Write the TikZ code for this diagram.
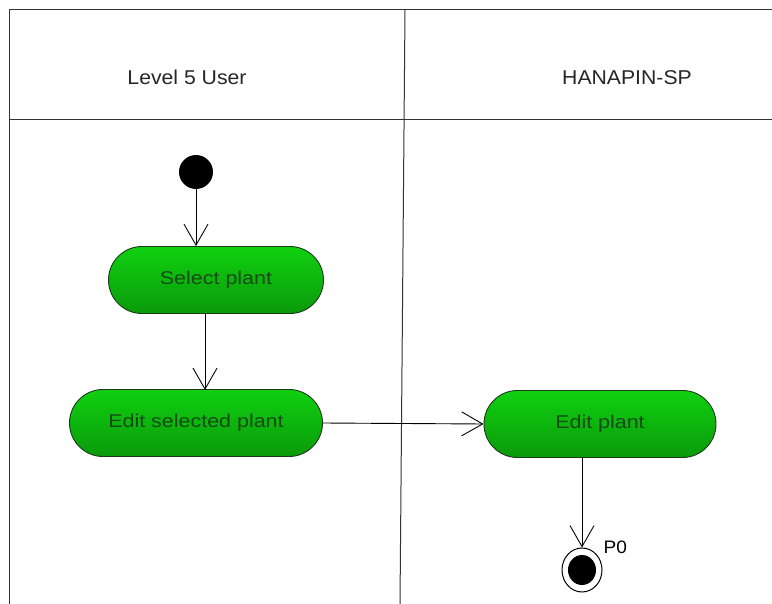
\documentclass[tikz,border=0pt]{standalone}
\usepackage{fontspec}
\setmainfont{Liberation Sans}
\newfontfamily\lanefont[FakeStretch=1.06]{Liberation Sans}
\newfontfamily\actfont[FakeStretch=1.16]{Liberation Sans}
\usetikzlibrary{arrows.meta,shapes.misc,shapes.geometric}
\definecolor{acttext}{HTML}{164A16}
\definecolor{acttop}{HTML}{10D010}
\definecolor{actbot}{HTML}{0A9A0A}
\definecolor{actline}{HTML}{1A3A1A}
\begin{document}
\begin{tikzpicture}[x=1pt,y=-1pt,
  frame/.style={draw=black!80,line width=1pt},
  action/.style={rounded rectangle,draw=actline,line width=0.9pt,
    top color=acttop,bottom color=actbot,minimum height=67pt,
    inner xsep=0pt,text=acttext,font=\actfont\fontsize{18.5}{21}\selectfont},
  flow/.style={draw=black,line width=0.9pt,-{Straight Barb[length=21pt,width=24pt,line width=0.9pt]}},
  lane/.style={font=\lanefont\fontsize{20}{23}\selectfont,text=black!85,anchor=base}]
\useasboundingbox (0,0) rectangle (772,604);
\fill[white] (0,0) rectangle (772,604);
% swimlane frame
\draw[frame] (772,10) -- (9,10) -- (9,604);
\draw[frame] (9,120) -- (772,120);
\draw[frame] (405,10) -- (400,604);
\node[lane] (l1) at (187,85) {Level 5 User};
\node[lane] (l2) at (627,85) {HANAPIN-SP};
% nodes
\node[circle,fill=black,minimum size=34pt,inner sep=0pt] (start) at (196,172) {};
\node[action,minimum width=215pt] (sel) at (216,280) {Select plant};
\node[action,minimum width=253pt] (edsel) at (196,423) {Edit selected plant};
\node[action,minimum width=232pt] (ed) at (600,424) {Edit plant};
\node[ellipse,draw=black,line width=1pt,fill=white,minimum width=40pt,minimum height=44pt,inner sep=0pt] (fin) at (582,570) {};
\node[ellipse,fill=black,minimum width=28pt,minimum height=30pt,inner sep=0pt] (finin) at (fin) {};
\node[font=\lanefont\fontsize{18}{21}\selectfont,anchor=base west] (p0) at (600,553) {P0};
% flows
\draw[flow] (start) -- (start |- sel.north);
\draw[flow] (sel.south -| 205,0) -- (205,390);
\draw[flow] (edsel.east) -- (ed.west);
\draw[flow] (582,457) -- (fin.north);
\end{tikzpicture}
\end{document}
